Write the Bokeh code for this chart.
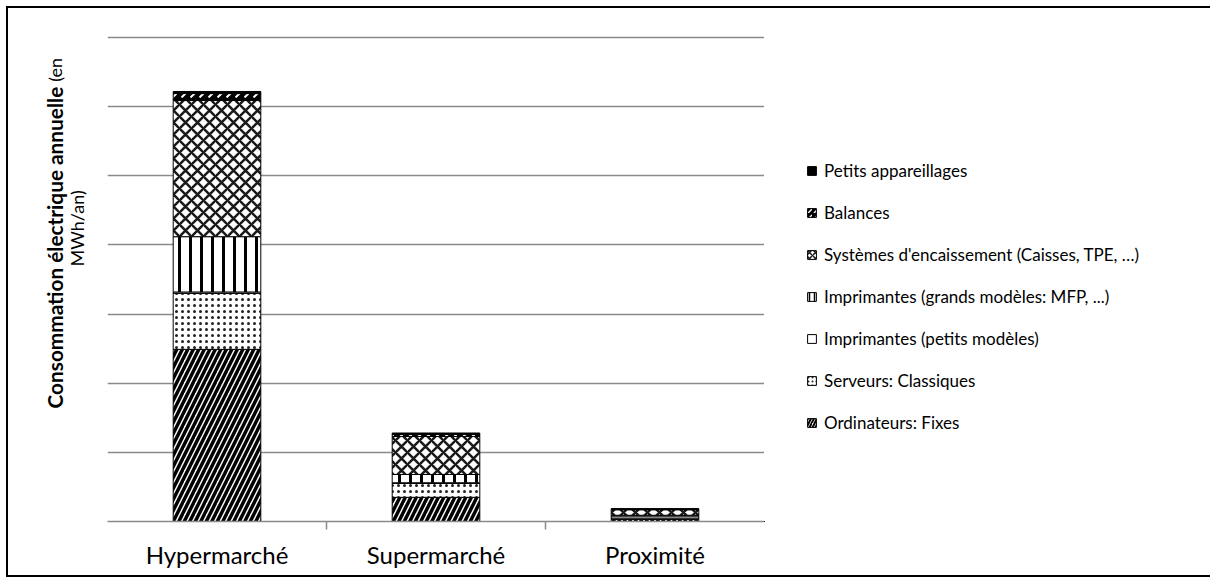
import math
from bokeh.plotting import figure
from bokeh.layouts import row
from bokeh.models import (ColumnDataSource, FactorRange, Range1d, FixedTicker,
                          CategoricalAxis, Legend, LegendItem, Label)
from bokeh.embed import file_html
from bokeh.resources import INLINE

# ---------------- data ----------------
categories = ["Hypermarché", "Supermarché", "Proximité"]
series_keys = ["ordinateurs", "serveurs", "imp_petits", "imp_grands",
               "systemes", "balances", "petits_app"]
series_names = ["Ordinateurs: Fixes",
                "Serveurs: Classiques",
                "Imprimantes (petits modèles)",
                "Imprimantes (grands modèles: MFP, ...)",
                "Systèmes d'encaissement (Caisses, TPE, …)",
                "Balances",
                "Petits appareillages"]
ordinateurs = [249, 35, 3]
serveurs = [81, 20, 2]
imp_petits = [2, 1, 3]
imp_grands = [80, 12, 1]
systemes = [197, 55, 8]
balances = [10, 3, 1]
petits_app = [3, 2, 0.5]
grid_ticks = [0, 100, 200, 300, 400, 500, 600, 700]
boundary_factors = ["b0", "b1", "b2", "b3"]
y_label_bold = "Consommation électrique annuelle"
y_label_normal_1 = "(en"
y_label_line_2 = "MWh/an)"

source = ColumnDataSource(dict(cat=categories, ordinateurs=ordinateurs,
                               serveurs=serveurs, imp_petits=imp_petits,
                               imp_grands=imp_grands, systemes=systemes,
                               balances=balances, petits_app=petits_app))

FONT = "Lato"
TOP, BOTTOM, H = 27, 54, 567
Y_END = 703

fill_colors = ["white", "white", "white", "white", "white", "black", "black"]
hatch_patterns = ["right_diagonal_line", "dot", " ", "vertical_line",
                  "diagonal_cross", "right_diagonal_dash", " "]
hatch_colors = ["black", "#222222", "black", "black", "#1a1a1a", "white", "black"]
hatch_scales = [11, 6, 8, 11, 12, 9, 8]
hatch_weights = [3.5, 2.0, 1, 3, 2.5, 2, 1]
legend_hatch_scales = [6, 4, 8, 5, 6, 6, 8]
legend_hatch_weights = [2, 1.5, 1, 1.5, 1.5, 1.5, 1]

# ---------------- main chart ----------------
p = figure(x_range=FactorRange(*categories, range_padding=0),
           y_range=Range1d(0, Y_END),
           width=657, height=H, output_backend="svg",
           toolbar_location=None, min_border_left=0, min_border_right=0,
           min_border_top=TOP, min_border_bottom=BOTTOM)
p.outline_line_color = None
p.background_fill_color = "white"
p.border_fill_color = "white"

renderers = p.vbar_stack(series_keys, x="cat", width=0.4, source=source,
                         fill_color=fill_colors, line_color="black", line_width=1,
                         hatch_pattern=hatch_patterns, hatch_color=hatch_colors,
                         hatch_scale=hatch_scales, hatch_weight=hatch_weights)

p.xgrid.visible = False
p.ygrid.ticker = FixedTicker(ticks=grid_ticks)
p.ygrid.grid_line_color = "#8a8a8a"
p.ygrid.grid_line_width = 1.5
p.yaxis.visible = False

cat_axis = p.xaxis[0]
cat_axis.axis_line_color = None
cat_axis.major_tick_line_color = None
cat_axis.minor_tick_line_color = None
cat_axis.major_label_text_font = FONT
cat_axis.major_label_text_font_size = "24px"
cat_axis.major_label_text_color = "black"
cat_axis.major_label_standoff = 4

p.extra_x_ranges = {"bounds": FactorRange(*boundary_factors, range_padding=-0.5,
                                          range_padding_units="absolute")}
bound_axis = CategoricalAxis(x_range_name="bounds",
                             axis_line_color="#8a8a8a", axis_line_width=1.5,
                             major_tick_line_color="#8a8a8a", major_tick_line_width=1.5,
                             major_tick_out=8, major_tick_in=0,
                             minor_tick_line_color=None,
                             major_label_text_font_size="0px",
                             major_label_text_alpha=0, major_label_standoff=0)
p.add_layout(bound_axis, "below")
p.below = [bound_axis, cat_axis]

# ---------------- legend panel ----------------
LW = 446
lf = figure(x_range=Range1d(0, LW), y_range=Range1d(0, H), width=LW, height=H,
            output_backend="svg", toolbar_location=None,
            min_border_left=0, min_border_right=0, min_border_top=0, min_border_bottom=0)
lf.axis.visible = False
lf.grid.visible = False
lf.outline_line_color = None
lf.border_fill_color = "white"
swatches = []
for i in range(len(series_keys)):
    # one off-screen swatch per series, used only to draw the legend keys
    swatches.append(lf.vbar(x=[-100], top=[-100], bottom=[-101], width=1,
                            fill_color=fill_colors[i],
                            line_color="black", line_width=1,
                            hatch_pattern=hatch_patterns[i], hatch_color=hatch_colors[i],
                            hatch_scale=legend_hatch_scales[i],
                            hatch_weight=legend_hatch_weights[i]))
items = [LegendItem(label=name, renderers=[r])
         for name, r in zip(series_names, swatches)][::-1]
legend = Legend(items=items, location=(42, 88), padding=0, margin=0,
                border_line_color=None, background_fill_alpha=0,
                glyph_width=11, glyph_height=11, label_height=21,
                spacing=21, label_standoff=7,
                label_text_font=FONT, label_text_font_size="17px",
                label_text_color="black", label_text_baseline="middle")
lf.add_layout(legend, "center")

# ---------------- y-axis title panel ----------------
t = figure(x_range=Range1d(0, 99), y_range=Range1d(0, Y_END),
           width=99, height=H, output_backend="svg", toolbar_location=None,
           min_border_left=0, min_border_right=0,
           min_border_top=TOP, min_border_bottom=BOTTOM)
t.axis.visible = False
t.grid.visible = False
t.outline_line_color = None
t.border_fill_color = "white"
t.add_layout(Label(x=46, y=629, text=y_label_bold, angle=math.pi / 2,
                   text_align="right", text_baseline="middle", text_font=FONT,
                   text_font_size="20.8px", text_font_style="bold", text_color="black"))
t.add_layout(Label(x=46, y=636, text=y_label_normal_1, angle=math.pi / 2,
                   text_align="left", text_baseline="middle", text_font=FONT,
                   text_font_size="18px", text_color="black"))
t.add_layout(Label(x=68, y=424, text=y_label_line_2, angle=math.pi / 2,
                   text_align="center", text_baseline="middle", text_font=FONT,
                   text_font_size="18px", text_color="black"))

layout = row(t, p, lf, spacing=0)
layout.styles = {"margin-left": "6px", "margin-top": "6px",
                 "border-left": "2px solid black", "border-top": "2px solid black",
                 "border-bottom": "2px solid black"}

open("out.html", "w").write(file_html(layout, INLINE))
